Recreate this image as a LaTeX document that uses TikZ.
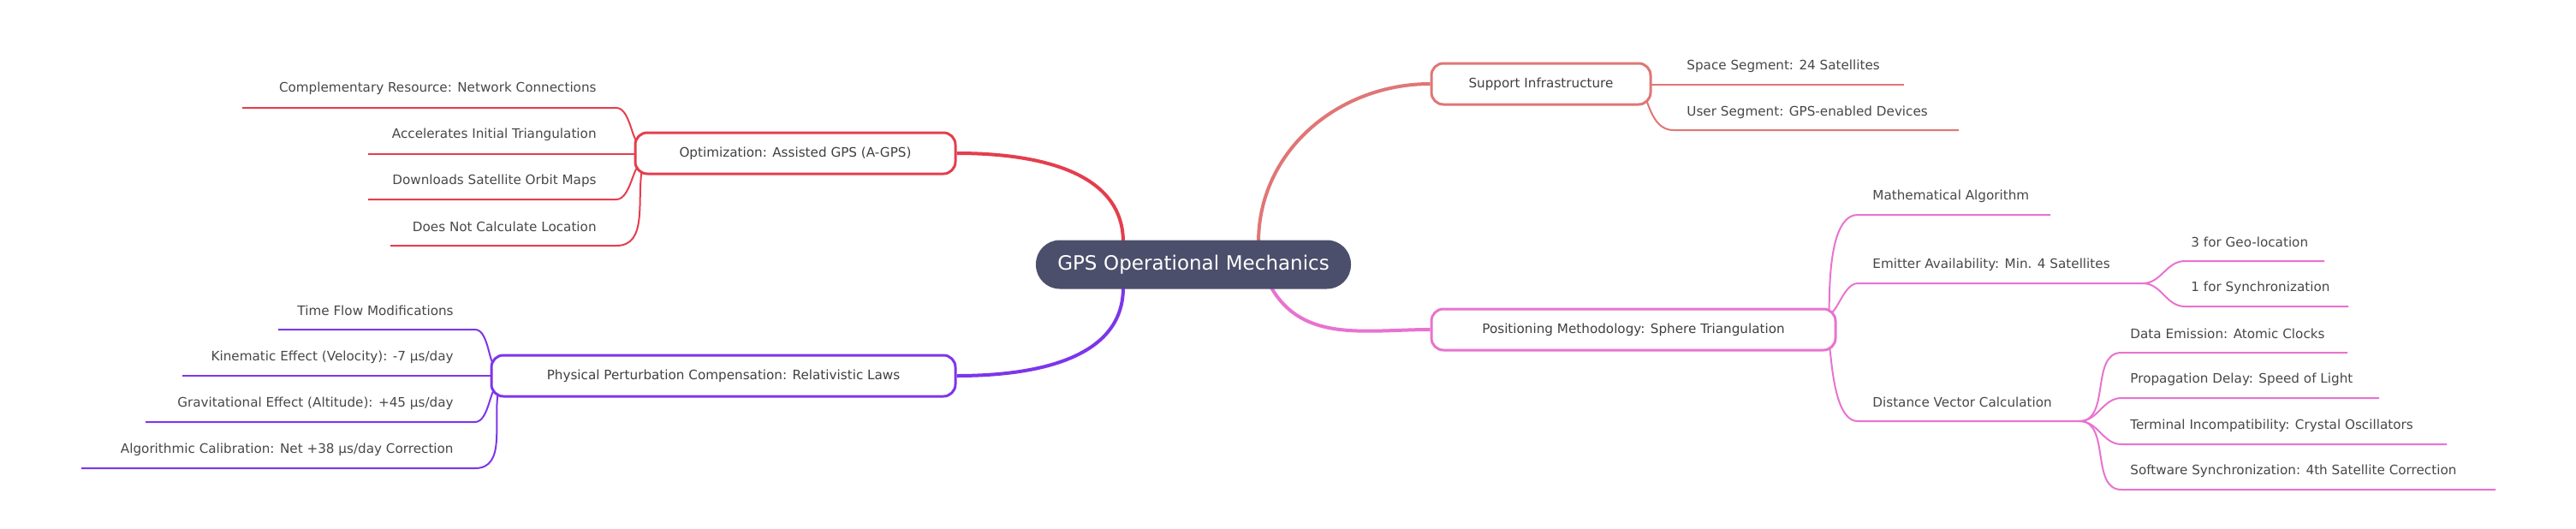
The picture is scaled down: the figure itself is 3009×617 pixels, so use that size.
\documentclass[tikz,border=0pt]{standalone}
\usepackage{fontspec}
\setmainfont{DejaVu Sans}
\usetikzlibrary{backgrounds}
\begin{document}
\begin{tikzpicture}[x=0.5pt,y=-0.5pt,
  txt/.style={anchor=west,inner sep=0pt,text=black!72,font=\fontsize{7.6}{9}\selectfont},
  txtr/.style={txt,anchor=east},
  box/.style={draw=#1,line width=1.5pt,rounded corners=7pt,fill=white,minimum height=24pt,inner sep=0pt,text=black!75,font=\fontsize{7.6}{9}\selectfont},
  br/.style={draw=#1,line width=2pt},
  lf/.style={draw=#1,line width=1pt}]
\definecolor{cA}{HTML}{E07676}
\definecolor{cB}{HTML}{E873CF}
\definecolor{cC}{HTML}{E43E4E}
\definecolor{cD}{HTML}{7D36EA}
\definecolor{rootc}{HTML}{4B4F6B}
\useasboundingbox (0,0) rectangle (3009,617);
% root
\node[fill=rootc,rounded corners=14pt,text width=184pt,align=center,minimum height=28.5pt,inner sep=0pt,text=white,font=\fontsize{11.5}{13}\selectfont] (root) at (1394,309) {GPS Operational Mechanics};
% branch boxes
\node[box=cA,minimum width=128pt] (sup) at (1800,98) {Support Infrastructure};
\node[box=cB,minimum width=236pt] (pos) at (1908,385) {Positioning Methodology: Sphere Triangulation};
\node[box=cC,minimum width=187pt] (opt) at (929,179) {Optimization: Assisted GPS (A-GPS)};
\node[box=cD,minimum width=271pt] (phy) at (845,439) {Physical Perturbation Compensation: Relativistic Laws};
% leaf texts
\node[txt] (s1) at (1970,77) {Space Segment: 24 Satellites};
\node[txt] (s2) at (1970,131) {User Segment: GPS-enabled Devices};
\node[txt] (p1) at (2187,229) {Mathematical Algorithm};
\node[txt] (p2) at (2187,309) {Emitter Availability: Min. 4 Satellites};
\node[txt] (p3) at (2187,470) {Distance Vector Calculation};
\node[txt] (q1) at (2559,283) {3 for Geo-location};
\node[txt] (q2) at (2559,336) {1 for Synchronization};
\node[txt] (r1) at (2488,390) {Data Emission: Atomic Clocks};
\node[txt] (r2) at (2488,443) {Propagation Delay: Speed of Light};
\node[txt] (r3) at (2488,497) {Terminal Incompatibility: Crystal Oscillators};
\node[txt] (r4) at (2488,550) {Software Synchronization: 4th Satellite Correction};
\node[txtr] (o1) at (697,103) {Complementary Resource: Network Connections};
\node[txtr] (o2) at (697,157) {Accelerates Initial Triangulation};
\node[txtr] (o3) at (697,211) {Downloads Satellite Orbit Maps};
\node[txtr] (o4) at (697,265) {Does Not Calculate Location};
\node[txtr] (f1) at (530,363) {Time Flow Modifications};
\node[txtr] (f2) at (530,417) {Kinematic Effect (Velocity): -7 μs/day};
\node[txtr] (f3) at (530,471) {Gravitational Effect (Altitude): +45 μs/day};
\node[txtr] (f4) at (530,525) {Algorithmic Calibration: Net +38 μs/day Correction};
% coordinates
\coordinate (rt1) at (1470,283); \coordinate (rb1) at (1485,336);
\coordinate (lt1) at (1312,283); \coordinate (lb1) at (1312,336);
\coordinate (s1a) at (1928,99); \coordinate (s1b) at (2224,99);
\coordinate (s2p) at (1922,114); \coordinate (s2a) at (1955,152); \coordinate (s2b) at (2288,152);
\coordinate (pt) at (2134,362); \coordinate (pb) at (2134,408);
\coordinate (p1a) at (2170,251); \coordinate (p1b) at (2395,251);
\coordinate (p2a) at (2170,331); \coordinate (p2b) at (2503,331);
\coordinate (p3a) at (2170,492); \coordinate (p3b) at (2429,492);
\coordinate (q1a) at (2552,305); \coordinate (q1b) at (2715,305);
\coordinate (q2a) at (2552,358); \coordinate (q2b) at (2743,358);
\coordinate (r1a) at (2478,412); \coordinate (r1b) at (2742,412);
\coordinate (r2a) at (2478,465); \coordinate (r2b) at (2779,465);
\coordinate (r3a) at (2478,519); \coordinate (r3b) at (2858,519);
\coordinate (r4a) at (2478,572); \coordinate (r4b) at (2915,572);
\coordinate (o1a) at (720,126); \coordinate (o1b) at (283,126);
\coordinate (o2a) at (742,180); \coordinate (o2b) at (430,180);
\coordinate (o3a) at (720,233); \coordinate (o3b) at (430,233);
\coordinate (o4a) at (720,287); \coordinate (o4b) at (456,287);
\coordinate (ot) at (748,162); \coordinate (ob) at (750,197);
\coordinate (ft) at (580,422); \coordinate (fb) at (582,457);
\coordinate (f1a) at (555,385); \coordinate (f1b) at (325,385);
\coordinate (f2a) at (574,439); \coordinate (f2b) at (213,439);
\coordinate (f3a) at (555,493); \coordinate (f3b) at (170,493);
\coordinate (f4a) at (555,547); \coordinate (f4b) at (95,547);
\begin{scope}[on background layer]
\draw[br=cA] (rt1) to[out=90,in=180] (sup.west);
\draw[br=cB] (rb1) to[out=-60,in=180] (pos.west);
\draw[br=cC] (lt1) to[out=90,in=0] (opt.east);
\draw[br=cD] (lb1) to[out=-90,in=0] (phy.east);
\draw[lf=cA] (s1a) -- (s1b);
\draw[lf=cA] (s2p) to[out=-70,in=180] (s2a) -- (s2b);
\draw[lf=cB] (pt) to[out=-80,in=180] (p1a) -- (p1b);
\draw[lf=cB] (pt) to[out=-60,in=180] (p2a) -- (p2b);
\draw[lf=cB] (pb) to[out=80,in=180] (p3a) -- (p3b);
\draw[lf=cB] (p2b) to[out=0,in=180] (q1a) -- (q1b);
\draw[lf=cB] (p2b) to[out=0,in=180] (q2a) -- (q2b);
\foreach \i in {1,2,3,4} \draw[lf=cB] (p3b) to[out=0,in=180] (r\i a) -- (r\i b);
\draw[lf=cC] (ot) to[out=-120,in=0] (o1a) -- (o1b);
\draw[lf=cC] (o2a) -- (o2b);
\draw[lf=cC] (ob) to[out=120,in=0] (o3a) -- (o3b);
\draw[lf=cC] (ob) to[out=-100,in=0] (o4a) -- (o4b);
\draw[lf=cD] (ft) to[out=-120,in=0] (f1a) -- (f1b);
\draw[lf=cD] (f2a) -- (f2b);
\draw[lf=cD] (fb) to[out=120,in=0] (f3a) -- (f3b);
\draw[lf=cD] (fb) to[out=-100,in=0] (f4a) -- (f4b);
\end{scope}
\end{tikzpicture}
\end{document}
